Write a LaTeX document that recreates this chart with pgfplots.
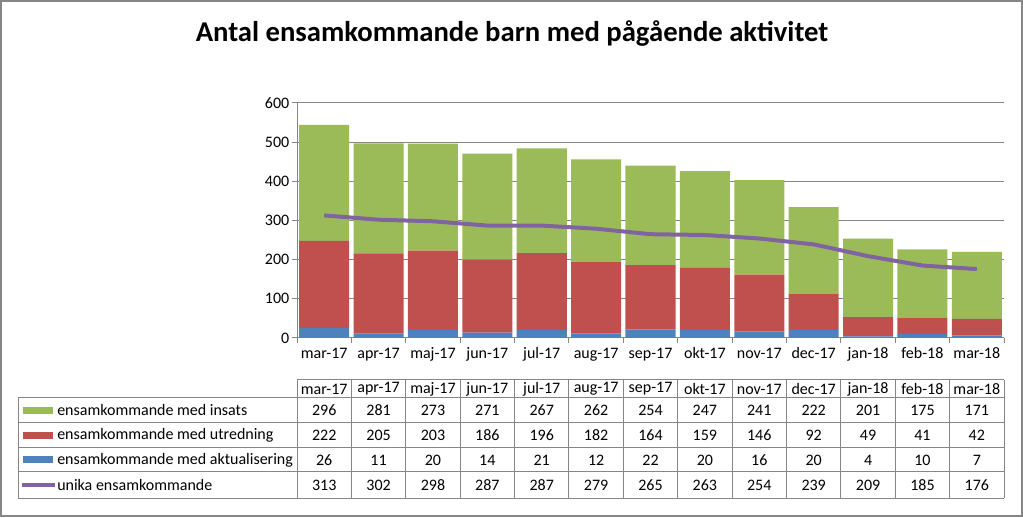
\documentclass[border=0pt]{standalone}
\usepackage{pgfplots}
\usepackage{pgfplotstable}
\pgfplotsset{compat=1.18}
\usepackage{fontspec}
\setmainfont{Carlito}

\definecolor{insats}{HTML}{9BBB59}
\definecolor{utred}{HTML}{C0504D}
\definecolor{aktual}{HTML}{4F81BD}
\definecolor{unika}{HTML}{8064A2}
\definecolor{framegray}{HTML}{868686}

% x = month index (mar-17 = 0)
\pgfplotstableread{
x insats utredning aktual unika
0  296 222 26 313
1  281 205 11 302
2  273 203 20 298
3  271 186 14 287
4  267 196 21 287
5  262 182 12 279
6  254 164 22 265
7  247 159 20 263
8  241 146 16 254
9  222  92 20 239
10 201  49  4 209
11 175  41 10 185
12 171  42  7 176
}\data

\newcommand{\tfont}{\fontsize{12}{14}\selectfont}

% plot box: x 297..1004 px, y 103..338 px from the top (1 px = 0.75pt)
\pgfplotsset{
  base/.style={
    at={(222.75pt,134.25pt)}, anchor=south west,
    width=530.25pt, height=176.25pt, scale only axis,
    xmin=-0.5, xmax=12.5, ymin=0, ymax=600,
  },
}

\begin{document}
\begin{tikzpicture}[x=0.75pt,y=0.75pt]
% frame and title (picture is 1023 x 517 px)
\draw[framegray, line width=1.5pt] (1,1) rectangle (1022,516);
\node[font=\bfseries\fontsize{21.5}{26}\selectfont, anchor=base] at (512,475) {Antal ensamkommande barn med pågående aktivitet};

\begin{axis}[base,
  ybar stacked, bar width=0.92,
  axis x line*=bottom, axis y line*=left,
  axis line style={framegray, line width=0.75pt},
  ytick={0,100,...,600}, ymajorgrids,
  grid style={framegray, line width=0.75pt},
  xtick={0,...,12},
  xticklabels={mar-17,apr-17,maj-17,jun-17,jul-17,aug-17,sep-17,okt-17,nov-17,dec-17,jan-18,feb-18,mar-18},
  minor xtick={-0.5,0.5,...,12.5},
  major x tick style={draw=none},
  tick style={framegray, line width=0.75pt},
  tick align=outside, major tick length=3.75pt, minor tick length=3.75pt,
  ticklabel style={font=\tfont},
  yticklabel style={xshift=1.5pt},
  /pgf/number format/assume math mode=true,
]
\addplot[fill=aktual, draw=none] table[x=x, y=aktual] {\data};
\addplot[fill=utred, draw=none] table[x=x, y=utredning] {\data};
\addplot[fill=insats, draw=none] table[x=x, y=insats] {\data};
\end{axis}

\begin{axis}[base, hide axis]
\addplot[unika, line width=3pt, no marks] table[x=x, y=unika] {\data};
\end{axis}

% data table under the plot (pixel coordinates from the top)
\begin{scope}[shift={(0,517)}, y=-0.75pt, font=\tfont]
  \draw[framegray, line width=0.75pt] (297,380) -- (1004,380);
  \foreach \yy in {398,423,448,472,498}
    \draw[framegray, line width=0.75pt] (18,\yy) -- (1004,\yy);
  \draw[framegray, line width=0.75pt] (18,398) -- (18,498);
  \foreach \k in {0,...,13}
    \draw[framegray, line width=0.75pt] ({297+54.385*\k},380) -- ({297+54.385*\k},498);
  \foreach \m [count=\k from 0] in {mar-17,apr-17,maj-17,jun-17,jul-17,aug-17,sep-17,okt-17,nov-17,dec-17,jan-18,feb-18,mar-18}
    \node at ({297+54.385*(\k+0.5)},389) {\m};
  \foreach \col/\yc in {insats/410.5,utredning/435.5,aktual/460,unika/485}{
    \pgfplotstableforeachcolumnelement{\col}\of\data\as\cell{
      \node at ({297+54.385*(\pgfplotstablerow+0.5)},\yc) {\cell};
    }
  }
  % legend keys
  \fill[insats] (23,407) rectangle (53,414);
  \fill[utred] (23,432) rectangle (53,439);
  \fill[aktual] (23,456.5) rectangle (53,463.5);
  \draw[unika, line width=3pt] (22,485) -- (55,485);
  \node[anchor=west, inner sep=0] at (57,410.5) {ensamkommande med insats};
  \node[anchor=west, inner sep=0] at (57,435.5) {ensamkommande med utredning};
  \node[anchor=west, inner sep=0] at (57,460) {ensamkommande med aktualisering};
  \node[anchor=west, inner sep=0] at (57,485) {unika ensamkommande};
\end{scope}
\end{tikzpicture}
\end{document}
